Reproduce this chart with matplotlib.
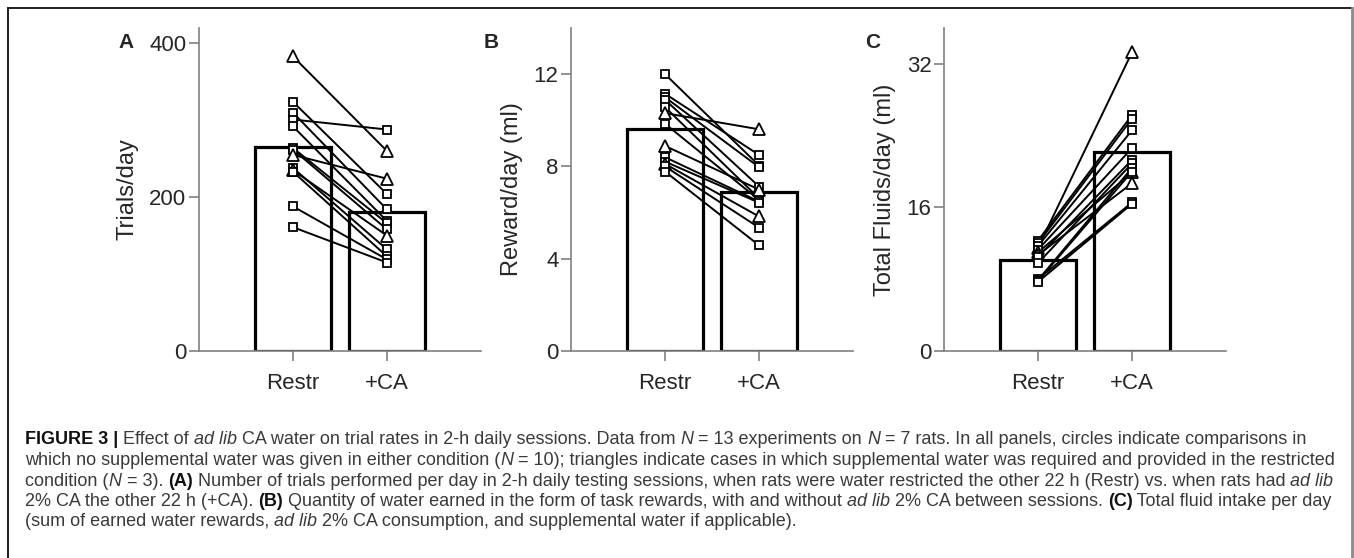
import matplotlib
matplotlib.use("Agg")
import matplotlib.pyplot as plt
from matplotlib.lines import Line2D

# ---------------- data ----------------
conditions = ["Restr", "+CA"]

trials_restr = [383, 324, 310, 301, 292, 264, 262, 255, 238, 235, 233, 188, 161]
trials_ca = [260, 204, 184, 288, 169, 166, 158, 224, 132, 150, 123, 119, 115]
trials_tri = [1, 0, 0, 0, 0, 0, 0, 1, 0, 1, 0, 0, 0]
trials_bar = [265.7, 180.3]
trials_ticks = [0, 200, 400]

reward_restr = [12.0, 11.15, 11.0, 10.89, 10.57, 10.31, 9.85, 8.89, 8.4, 8.21, 8.11, 8.0, 7.78]
reward_ca = [8.04, 8.5, 7.97, 7.13, 6.62, 9.61, 6.55, 7.0, 6.48, 6.43, 5.83, 5.35, 4.58]
reward_tri = [0, 0, 0, 0, 0, 1, 0, 1, 0, 0, 1, 0, 0]
reward_bar = [9.63, 6.91]
reward_ticks = [0, 4, 8, 12]

fluid_restr = [11.5, 12.3, 12.0, 11.7, 11.3, 11.0, 10.7, 10.5, 9.8, 8.0, 7.9, 7.8, 7.7]
fluid_ca = [33.3, 26.3, 25.9, 24.6, 22.6, 19.9, 18.7, 21.3, 20.9, 16.56, 20.4, 20.0, 16.4]
fluid_tri = [1, 0, 0, 0, 0, 1, 1, 0, 0, 0, 0, 0, 0]
fluid_bar = [10.16, 22.14]
fluid_ticks = [0, 16, 32]

panel_letters = ["A", "B", "C"]
ylabels = ["Trials/day", "Reward/day (ml)", "Total Fluids/day (ml)"]
ylims = [420, 14, 36]

caption_lines = [
    [("FIGURE 3 | ", "bold", "normal"), ("Effect of ", "normal", "normal"), ("ad lib", "normal", "italic"),
     (" CA water on trial rates in 2-h daily sessions. Data from ", "normal", "normal"), ("N", "normal", "italic"),
     (" = 13 experiments on ", "normal", "normal"), ("N", "normal", "italic"),
     (" = 7 rats. In all panels, circles indicate comparisons in", "normal", "normal")],
    [("which no supplemental water was given in either condition (", "normal", "normal"), ("N", "normal", "italic"),
     (" = 10); triangles indicate cases in which supplemental water was required and provided in the restricted", "normal", "normal")],
    [("condition (", "normal", "normal"), ("N", "normal", "italic"), (" = 3). ", "normal", "normal"),
     ("(A)", "bold", "normal"),
     (" Number of trials performed per day in 2-h daily testing sessions, when rats were water restricted the other 22 h (Restr) vs. when rats had ", "normal", "normal"),
     ("ad lib", "normal", "italic")],
    [("2% CA the other 22 h (+CA). ", "normal", "normal"), ("(B)", "bold", "normal"),
     (" Quantity of water earned in the form of task rewards, with and without ", "normal", "normal"),
     ("ad lib", "normal", "italic"), (" 2% CA between sessions. ", "normal", "normal"), ("(C)", "bold", "normal"),
     (" Total fluid intake per day", "normal", "normal")],
    [("(sum of earned water rewards, ", "normal", "normal"), ("ad lib", "normal", "italic"),
     (" 2% CA consumption, and supplemental water if applicable).", "normal", "normal")],
]

# ---------------- style ----------------
W, H = 1354, 558
FONT = "Liberation Sans"
plt.rcParams["font.family"] = [FONT, "DejaVu Sans"]
TXT = "#262626"
SPINE = "#808080"

fig = plt.figure(figsize=(W / 100, H / 100), dpi=100)
fig.patch.set_facecolor("white")

def px_ax(left_px, bottom_px, top_px, width_px):
    return [left_px / W, 1 - bottom_px / H, width_px / W, (bottom_px - top_px) / H]

ax_lefts = [199, 571, 944]
letter_pos = [(126, 43), (491, 43), (873, 43)]
label_x = [-0.255, -0.209, -0.209]

datasets = [
    (trials_restr, trials_ca, trials_tri, trials_bar, trials_ticks),
    (reward_restr, reward_ca, reward_tri, reward_bar, reward_ticks),
    (fluid_restr, fluid_ca, fluid_tri, fluid_bar, fluid_ticks),
]
xpos = [1, 2]

for i, (rv, cv, tri, bars, ticks) in enumerate(datasets):
    ax = fig.add_axes(px_ax(ax_lefts[i], 351, 28, 282))
    ax.bar(xpos, bars, width=0.8, facecolor="white", edgecolor="black", linewidth=2.3, zorder=1)
    for r, c in zip(rv, cv):
        ax.plot(xpos, [r, c], color="black", lw=1.4, zorder=3, solid_capstyle="round")
    for r, c, t in zip(rv, cv, tri):
        ax.plot(xpos, [r, c], ls="none", marker="^" if t else "s",
                ms=8.3 if t else 5.6, mfc="white", mec="black", mew=1.3, zorder=4)
    ax.set_xlim(0, 3)
    ax.set_ylim(0, ylims[i])
    ax.set_xticks(xpos)
    ax.set_xticklabels(conditions)
    ax.set_yticks(ticks)
    ax.set_yticklabels([str(t) for t in ticks])
    for s in ["top", "right"]:
        ax.spines[s].set_visible(False)
    for s in ["left", "bottom"]:
        ax.spines[s].set_color(SPINE)
        ax.spines[s].set_linewidth(1.2)
    ax.tick_params(axis="y", direction="out", length=7, width=1.2, color=SPINE,
                   labelsize=16, labelcolor=TXT, pad=2)
    ax.tick_params(axis="x", direction="out", length=7, width=1.2, color=SPINE,
                   labelsize=16, labelcolor=TXT, pad=9)
    ax.text(label_x[i], 0.5, ylabels[i], rotation=90, ha="center", va="center",
            fontsize=17, color=TXT, transform=ax.transAxes)
    ax.patch.set_alpha(0)
    lx, ly = letter_pos[i]
    fig.text(lx / W, 1 - ly / H, panel_letters[i], fontsize=15, fontweight="bold",
             color=TXT, ha="center", va="center")

# ---------------- frame ----------------
fig.add_artist(Line2D([8 / W, 1352 / W], [1 - 8 / H, 1 - 8 / H], transform=fig.transFigure,
                      color="#1e1e1e", lw=1.4))
fig.add_artist(Line2D([8 / W, 8 / W], [1 - 8 / H, 0], transform=fig.transFigure,
                      color="#1e1e1e", lw=1.4))
fig.add_artist(Line2D([1352 / W, 1352 / W], [1 - 8 / H, 0], transform=fig.transFigure,
                      color="#8a8a8a", lw=2.0))

# ---------------- caption ----------------
renderer = fig.canvas.get_renderer()

def text_width(s, fs, weight, style):
    t1 = fig.text(0, 0, "|" + s + "|", fontsize=fs, fontweight=weight, fontstyle=style)
    t2 = fig.text(0, 0, "||", fontsize=fs, fontweight=weight, fontstyle=style)
    w = t1.get_window_extent(renderer).width - t2.get_window_extent(renderer).width
    t1.remove()
    t2.remove()
    return w

base_fs = 12.0
w_line2 = sum(text_width(s, base_fs, wt, st) for s, wt, st in caption_lines[1])
cap_fs = base_fs * (1337 - 25) / w_line2

cap_y0 = 438
cap_dy = 20.5
for li, runs in enumerate(caption_lines):
    x = 25.0
    y = cap_y0 + li * cap_dy
    for s, wt, st in runs:
        col = "#111111" if wt == "bold" else "#3a3a3a"
        fig.text(x / W, 1 - y / H, s, fontsize=cap_fs, fontweight=wt, fontstyle=st,
                 color=col, ha="left", va="center_baseline")
        x += text_width(s, cap_fs, wt, st)

fig.savefig("out.png", dpi=100, facecolor="white")
